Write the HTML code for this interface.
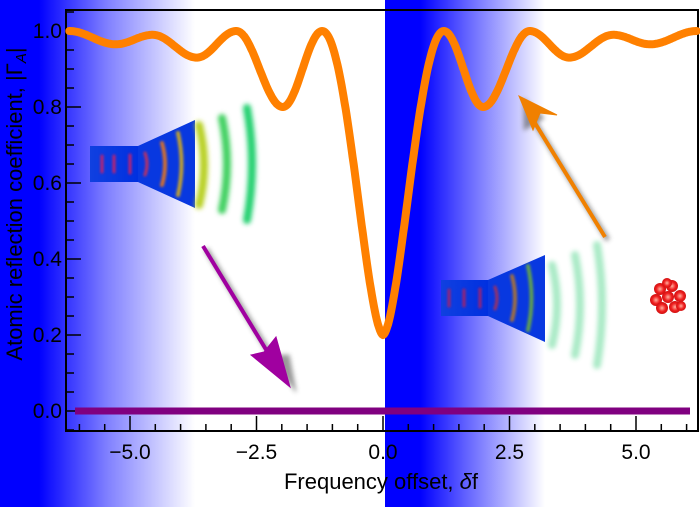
<!DOCTYPE html>
<html><head><meta charset="utf-8"><style>
html,body{margin:0;padding:0;background:#fff;}
svg{display:block;font-family:"Liberation Sans",sans-serif;}
</style></head><body>
<svg id="s" width="700" height="507" viewBox="0 0 700 507" xmlns="http://www.w3.org/2000/svg">
<defs>
<linearGradient id="gl" x1="0" x2="1" y1="0" y2="0">
<stop offset="0" stop-color="#0000ff"/><stop offset="0.2" stop-color="#0000ff"/><stop offset="0.55" stop-color="#8080ff"/><stop offset="1" stop-color="#ffffff"/></linearGradient>
<linearGradient id="gr" x1="0" x2="1" y1="0" y2="0">
<stop offset="0" stop-color="#0000ff"/><stop offset="0.22" stop-color="#0000ff"/><stop offset="0.5" stop-color="#6060ff"/><stop offset="1" stop-color="#ffffff"/></linearGradient>
<linearGradient id="hb" x1="0" x2="1"><stop offset="0" stop-color="#1040e0"/><stop offset="1" stop-color="#0030e0"/></linearGradient>
<filter id="bl" x="-50%" y="-50%" width="200%" height="200%"><feGaussianBlur stdDeviation="2.5"/></filter>
<filter id="bl2" x="-50%" y="-50%" width="200%" height="200%"><feGaussianBlur stdDeviation="1.2"/></filter>
<radialGradient id="ball"><stop offset="0" stop-color="#ffb0a0"/><stop offset="0.6" stop-color="#f02020"/><stop offset="1" stop-color="#d01010"/></radialGradient>
</defs>
<rect x="0" y="0" width="195" height="507" fill="url(#gl)"/>
<rect x="385" y="0" width="160" height="507" fill="url(#gr)"/>
<rect x="66" y="10" width="632" height="421" fill="none" stroke="#000" stroke-width="2"/>
<g id="ticks" stroke="#000" stroke-width="1.5"></g>
<g id="labels" font-size="21" fill="#000"></g>
<g>
<rect x="90" y="146" width="48" height="36" fill="url(#hb)"/>
<polygon points="138,146 195,120 195,208 138,182" fill="#0838e0"/>
<g filter="url(#bl2)" fill="none" stroke-linecap="round">
<path d="M102,156 v16" stroke="#c02070" stroke-width="3"/>
<path d="M114,156 v16" stroke="#c02070" stroke-width="3"/>
<path d="M130,155 v18" stroke="#c02070" stroke-width="3"/>
<path d="M145,153 q4,11 0,22" stroke="#c03060" stroke-width="3"/>
<path d="M162,143 q6,21 0,42" stroke="#d07030" stroke-width="4"/>
<path d="M178,133 q7,31 0,62" stroke="#c0a030" stroke-width="4"/>
</g>
<g filter="url(#bl)" fill="none" stroke-linecap="round" stroke-width="8">
<path d="M199,125 q10,40 0,80" stroke="#b8d020"/>
<path d="M222,118 q10,46 0,92" stroke="#40d060"/>
<path d="M247,108 q10,56 0,112" stroke="#20d070"/>
</g>
</g>
<g>
<rect x="441" y="280" width="47" height="36" fill="url(#hb)"/>
<polygon points="488,280 545,255 545,342 488,316" fill="#0838e0"/>
<g filter="url(#bl2)" fill="none" stroke-linecap="round">
<path d="M449,290 v16" stroke="#a02070" stroke-width="3"/>
<path d="M464,290 v16" stroke="#a02070" stroke-width="3"/>
<path d="M480,289 v18" stroke="#a02070" stroke-width="3"/>
<path d="M495,287 q4,11 0,22" stroke="#a03060" stroke-width="3"/>
<path d="M512,276 q6,22 0,44" stroke="#a07040" stroke-width="4"/>
<path d="M528,266 q7,32 0,64" stroke="#60a050" stroke-width="4"/>
</g>
<g filter="url(#bl)" fill="none" stroke-linecap="round" stroke-width="8" opacity="0.45">
<path d="M552,265 q10,40 0,80" stroke="#40d080"/>
<path d="M575,255 q10,50 0,100" stroke="#40d080"/>
<path d="M597,245 q10,60 0,120" stroke="#40d080"/>
</g>
</g>
<g>
<circle cx="660" cy="289" r="6" fill="url(#ball)"/><circle cx="672" cy="286" r="6" fill="url(#ball)"/>
<circle cx="656" cy="300" r="6" fill="url(#ball)"/><circle cx="668" cy="297" r="6" fill="url(#ball)"/>
<circle cx="680" cy="296" r="6" fill="url(#ball)"/><circle cx="662" cy="308" r="6" fill="url(#ball)"/>
<circle cx="675" cy="307" r="6" fill="url(#ball)"/><circle cx="667" cy="283" r="5" fill="url(#ball)"/>
<circle cx="681" cy="306" r="5" fill="url(#ball)"/>
</g>
<line x1="75" y1="411" x2="690" y2="411" stroke="#800080" stroke-width="7"/>
<g filter="url(#bl)" opacity="0.6" fill="#555" stroke="#555">
<line x1="206" y1="249" x2="280" y2="370" stroke-width="5"/>
<polygon points="296,392 270,356 289,355"/>
<line x1="608" y1="240" x2="532" y2="118" stroke-width="5"/>
<polygon points="524,99 524,130 544,118"/>
</g>
<g fill="#a000a0" stroke="#a000a0">
<line x1="203" y1="246" x2="276" y2="366" stroke-width="4"/>
<polygon points="290,387 251,355 264,352 276,337"/>
</g>
<g fill="#f08000" stroke="#f08000">
<line x1="605" y1="237" x2="530" y2="115" stroke-width="4"/>
<polygon points="519,96 533,130 540,113 557,115"/>
</g>
<path id="curve" fill="none" stroke="#ff8000" stroke-width="8" stroke-linejoin="round" stroke-linecap="round"/>
<text x="381" y="489" font-size="22" text-anchor="middle">Frequency offset, <tspan font-style="italic">δ</tspan>f</text>
<text transform="translate(22,204) rotate(-90)" font-size="22" text-anchor="middle">Atomic reflection coefficient, |Γ<tspan font-size="15" font-style="italic" dy="4">A</tspan><tspan dy="-4">|</tspan></text>
</svg>
<script>
var X=function(v){return 383+v*50.6},Y=function(v){return 411-v*380};
var ext=[[0,0.2],[1.2,1.0],[1.98,0.8],[2.9,1.0],[3.68,0.93],[4.55,0.99],[5.28,0.965],[6.2,1.0]];
function f(x){var a=Math.abs(x);for(var i=0;i<ext.length-1;i++){var p=ext[i],q=ext[i+1];if(a<=q[0]){var t=(a-p[0])/(q[0]-p[0]);var s;if(i==0){s=Math.sin(Math.PI/2*Math.pow(t,0.85));s=s*s;}else s=(1-Math.cos(Math.PI*t))/2;return p[1]+(q[1]-p[1])*s;}}return 1;}
var d="";for(var x=-6.2;x<=6.2001;x+=0.02){d+=(d?"L":"M")+X(x).toFixed(1)+","+Y(f(x)).toFixed(1);}
document.getElementById("curve").setAttribute("d",d);
var tk=document.getElementById("ticks"),lb=document.getElementById("labels"),h="";
for(var i=-12;i<=12;i++){var x=X(i*0.5),maj=(i%5==0);h+='<line x1="'+x+'" x2="'+x+'" y1="431" y2="'+(maj?416:424)+'"/>';}
for(var j=-1;j<=21;j++){var y=Y(j*0.05);if(y<10||y>431)continue;var maj=(j%4==0);h+='<line x1="66" x2="'+(maj?81:74)+'" y1="'+y+'" y2="'+y+'"/>';}
tk.innerHTML=h;var l="";
[-5,-2.5,0,2.5,5].forEach(function(v){l+='<text x="'+X(v)+'" y="459" text-anchor="middle">'+(v<0?'\u2212':'')+Math.abs(v).toFixed(1)+'</text>';});
[0,0.2,0.4,0.6,0.8,1.0].forEach(function(v){l+='<text x="62" y="'+(Y(v)+7)+'" text-anchor="end">'+v.toFixed(1)+'</text>';});
lb.innerHTML=l;
</script>
</body></html>
